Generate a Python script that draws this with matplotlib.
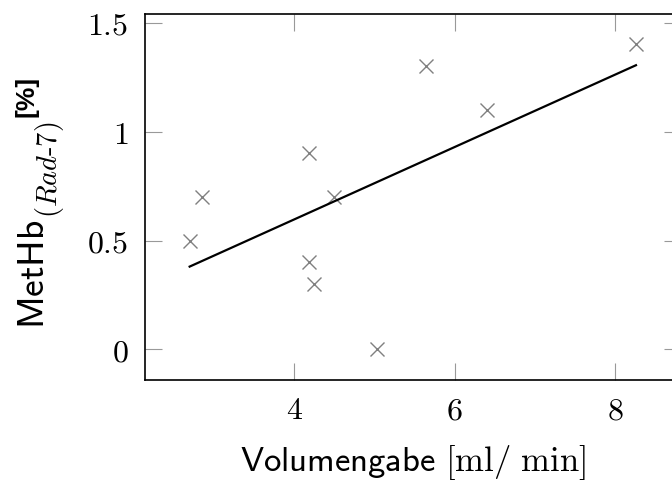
import numpy as np
import matplotlib
matplotlib.use("Agg")
import matplotlib.pyplot as plt
from matplotlib.ticker import FixedLocator, FuncFormatter

plt.rcParams['mathtext.fontset'] = 'cm'

# Volumengabe [ml/min] vs MetHb (Rad-7) [%]
volume = [2.70, 2.85, 4.19, 4.19, 4.25, 4.50, 5.04, 5.64, 6.41, 8.26]
methb = [0.5, 0.7, 0.9, 0.4, 0.3, 0.7, 0.0, 1.3, 1.1, 1.4]
xticks = [4, 6, 8]
yticks = [0, 0.5, 1, 1.5]

x = np.array(volume)
y = np.array(methb)
slope, icpt = np.polyfit(x, y, 1)
fit_x = np.array([x.min(), x.max()])

fig = plt.figure(figsize=(6.72, 4.83), dpi=100)
ax = fig.add_axes([0.2158, 0.2133, 0.797, 0.7578])

ax.plot(x, y, linestyle='none', marker='x', color='#808080',
        markersize=10, markeredgewidth=1.0)
ax.plot(fit_x, slope * fit_x + icpt, color='black', linewidth=1.6)

# pgfplots style: 10% enlarged limits
xr = x.max() - x.min()
yr = y.max() - y.min()
ax.set_xlim(x.min() - 0.1 * xr, x.max() + 0.1 * xr)
ax.set_ylim(y.min() - 0.1 * yr, y.max() + 0.1 * yr)

ax.xaxis.set_major_locator(FixedLocator(xticks))
ax.yaxis.set_major_locator(FixedLocator(yticks))
fmt = FuncFormatter(lambda v, p: '$%g$' % v)
ax.xaxis.set_major_formatter(fmt)
ax.yaxis.set_major_formatter(fmt)

ax.tick_params(direction='in', length=12, width=0.8, color='#999999',
               top=True, right=True, labelsize=23)
ax.tick_params(axis='y', pad=12)
ax.tick_params(axis='x', pad=11)
for s in ax.spines.values():
    s.set_linewidth(1.2)

ax.set_xlabel(r'$\mathsf{Volumengabe}\ [\mathrm{ml/\ min}]$', fontsize=25,
              labelpad=12)

# y label built from pieces: sans name, italic subscript, bold unit
H = 483.0
name = fig.text(16 / 672, 1 - 329 / H, r'$\mathsf{MetHb}$',
                rotation=90, ha='left', va='bottom', fontsize=27)
fig.canvas.draw()
top = fig.transFigure.inverted().transform(
    (0, name.get_window_extent().y1))[1]
sub = fig.text(33 / 672, top + 1 / H, r'$(\mathit{Rad}\text{-}\mathit{7})$',
               rotation=90, ha='left', va='bottom', fontsize=20.5)
fig.canvas.draw()
top = fig.transFigure.inverted().transform(
    (0, sub.get_window_extent().y1))[1]
fig.text(15 / 672, top + 5 / H, '[%]', rotation=90, ha='left',
         va='bottom', fontsize=19, fontweight='bold',
         family='Liberation Sans')

fig.savefig('out.png', dpi=100)
